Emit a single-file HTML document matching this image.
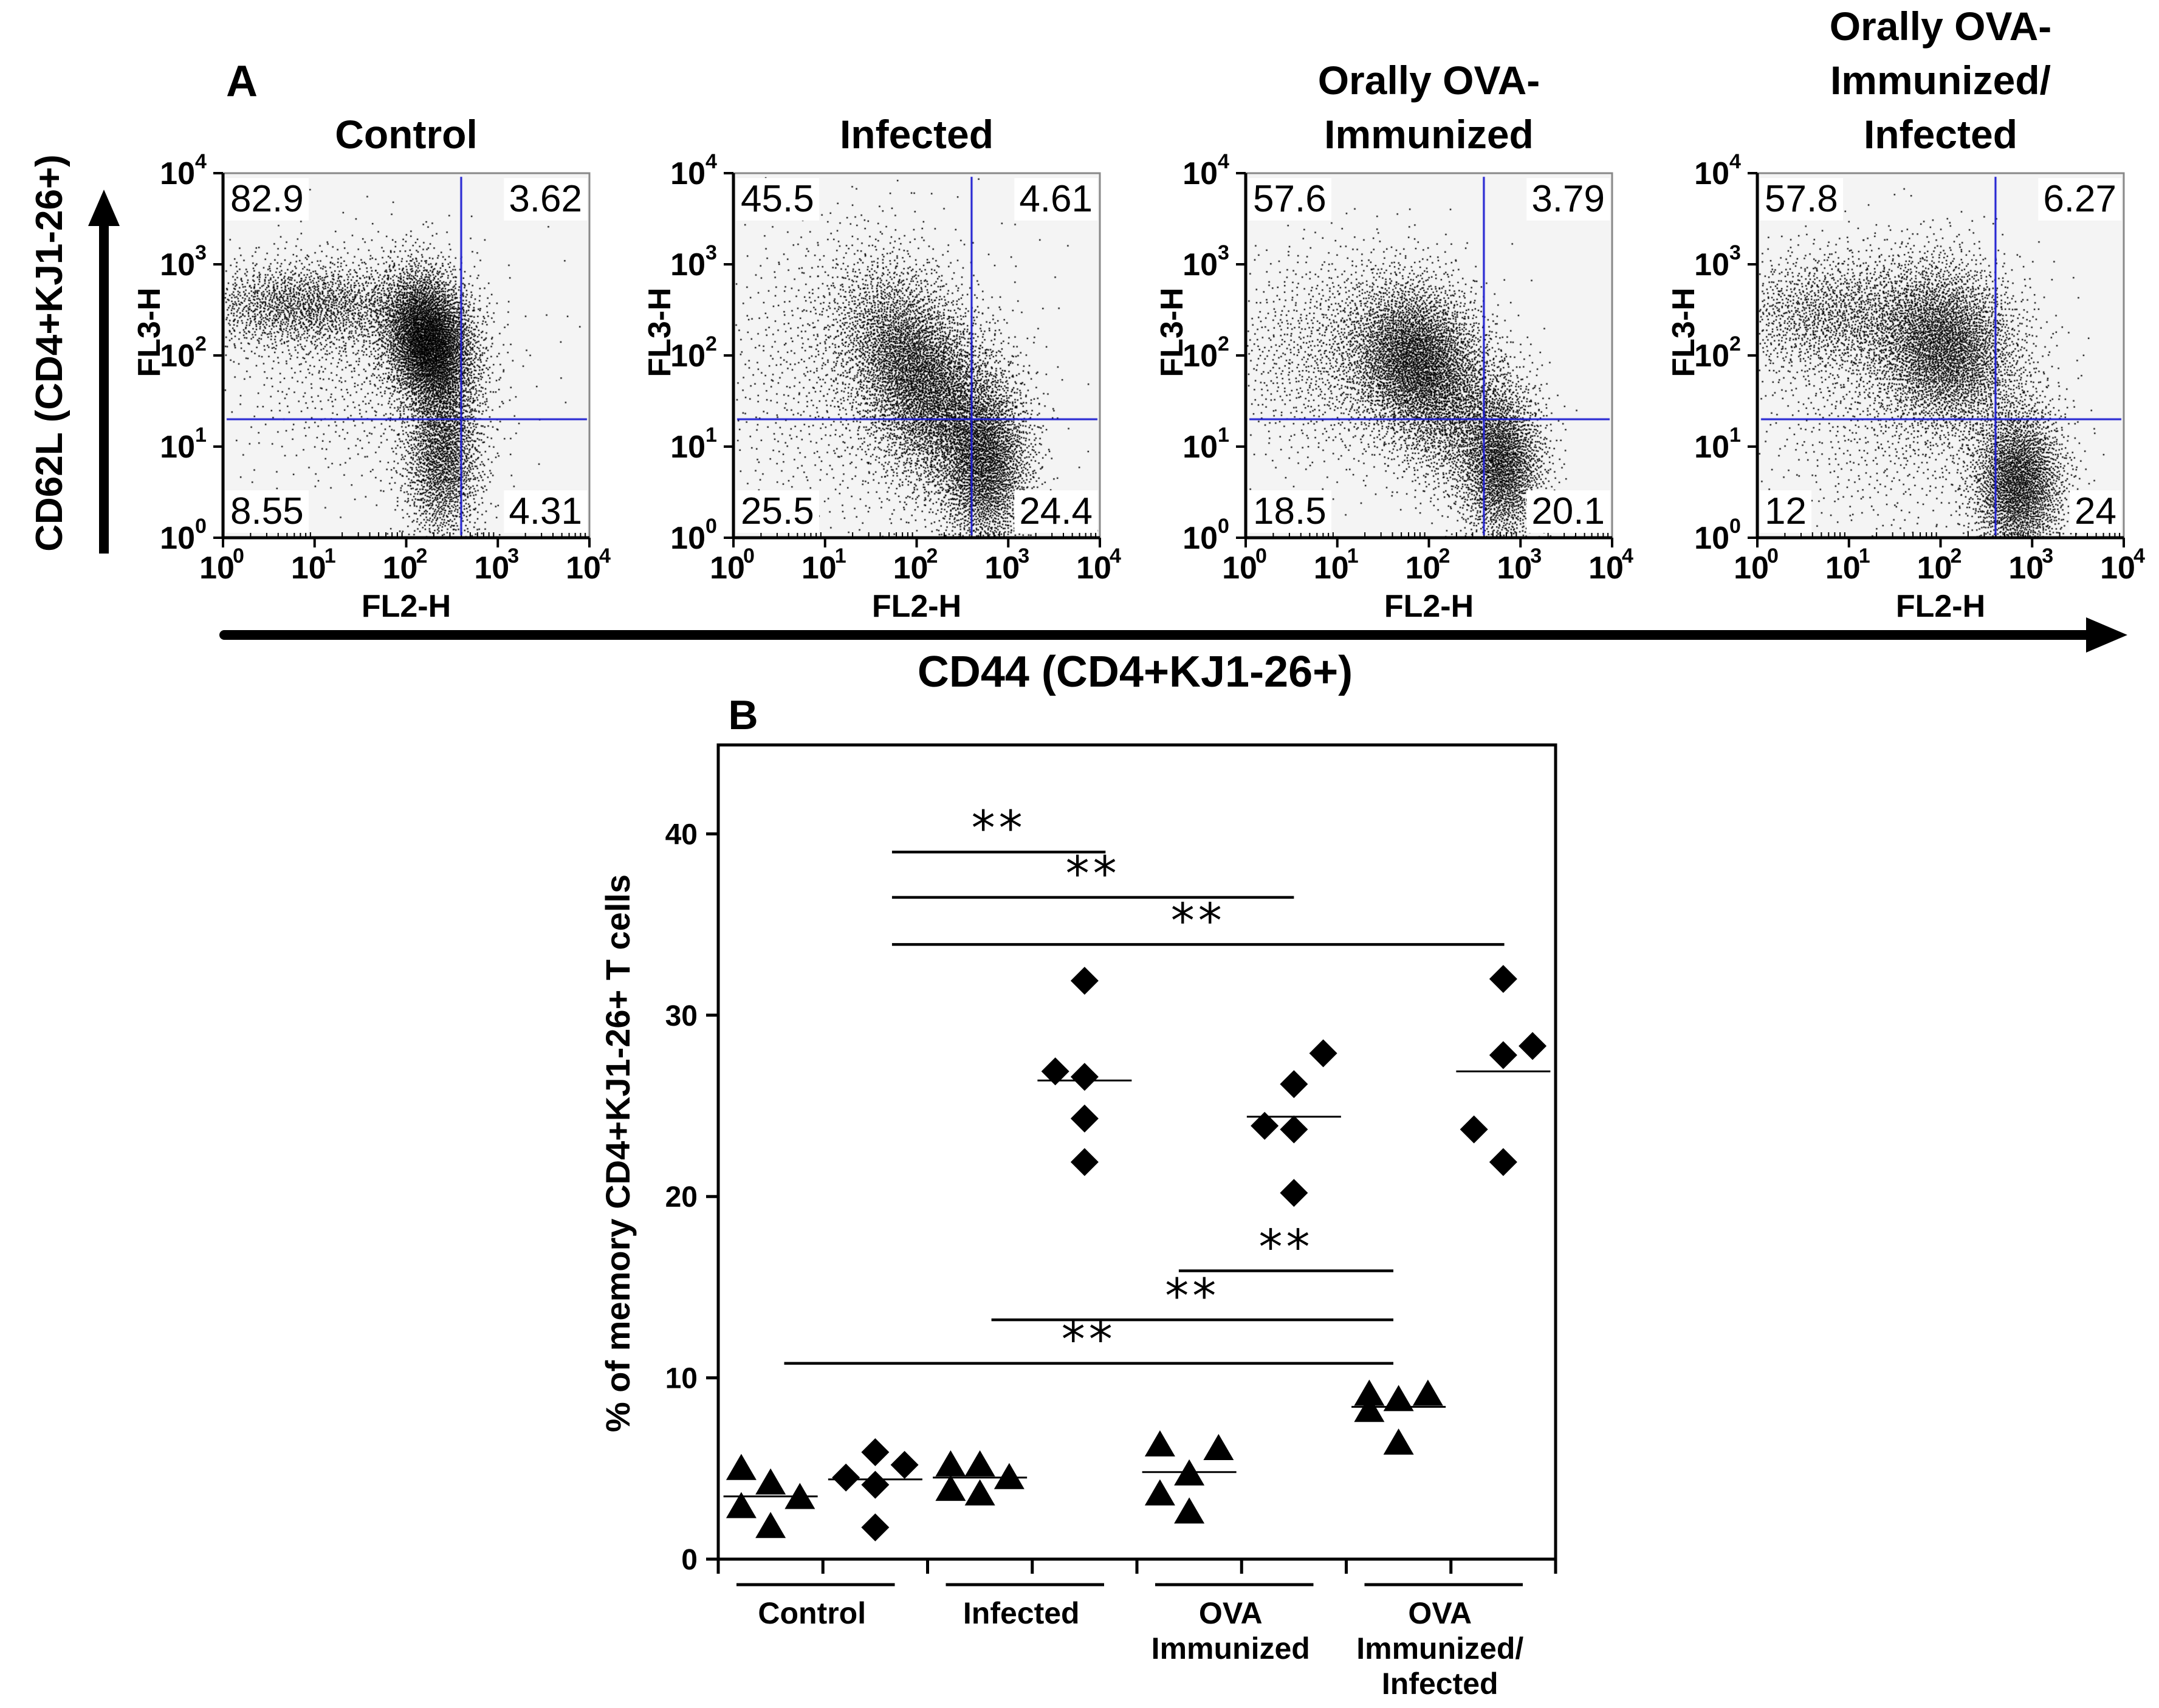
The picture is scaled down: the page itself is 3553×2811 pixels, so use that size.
<!DOCTYPE html>
<html><head><meta charset="utf-8"><style>
html,body{margin:0;padding:0;background:#fff;}
#root{position:relative;width:3553px;height:2811px;overflow:hidden;background:#fff;}
svg{position:absolute;left:0;top:0;}
canvas{position:absolute;}
.qn{position:absolute;background:#fff;font-family:"Liberation Sans Narrow","Liberation Sans",sans-serif;font-size:62px;line-height:70px;padding:0 8px;color:#000;}
</style></head><body>
<div id="root">
<svg id="base" width="3553" height="2811" viewBox="0 0 3553 2811"></svg>
</div>
<script>
// ---------- Panel A data ----------
const plotTitles = [["Control"],["Infected"],["Orally OVA-","Immunized"],["Orally OVA-","Immunized/","Infected"]];
const quadValues = [["82.9","3.62","8.55","4.31"],["45.5","4.61","25.5","24.4"],["57.6","3.79","18.5","20.1"],["57.8","6.27","12","24"]];
const gateX = [2.6,2.6,2.6,2.6];
const gateY = [1.3,1.3,1.3,1.3];
const logTicks = [0,1,2,3,4];
// clusters: [centerLogX, centerLogY, sdX, sdY, rho, count]
const clustersControl = [[2.25,2.15,0.26,0.4,-0.2,4200],[0.9,2.55,0.65,0.25,0,1800],[2.4,0.9,0.22,0.5,0,2000],[1.6,1.9,0.8,0.7,0,900]];
const clustersInfected = [[1.95,1.9,0.42,0.55,-0.35,3500],[2.75,0.8,0.26,0.5,0,2600],[2.3,1.3,0.4,0.5,0,1500],[1.3,1.8,0.9,0.9,0,1200]];
const clustersOva = [[1.85,1.95,0.38,0.45,-0.1,3600],[2.8,0.8,0.24,0.45,0,2300],[2.3,1.3,0.35,0.45,0,1200],[1.0,2.0,0.7,0.6,0,1300]];
const clustersOvaInf = [[2.05,2.1,0.42,0.48,-0.1,3600],[2.85,0.6,0.26,0.45,0,2700],[0.8,2.45,0.6,0.35,0,1500],[1.5,1.5,0.8,0.8,0,1100]];
const allClusters = [clustersControl,clustersInfected,clustersOva,clustersOvaInf];

// ---------- Panel B data ----------
const groupLabels = [["Control"],["Infected"],["OVA","Immunized"],["OVA","Immunized/","Infected"]];
const yTicks = [0,10,20,30,40];
const subMarkers = ["tri","dia","tri","dia","tri","dia","tri","dia"];
const valsCtrlTri = [5.0,2.9,4.2,1.8,3.4];
const colsCtrlTri = [0,0,1,1,2];
const valsCtrlDia = [4.5,5.9,4.1,1.75,5.2];
const colsCtrlDia = [0,1,1,1,2];
const valsInfTri = [5.2,3.85,5.2,3.6,4.5];
const colsInfTri = [0,0,1,1,2];
const valsInfDia = [26.9,31.9,26.6,24.3,21.9];
const colsInfDia = [0,1,1,1,1];
const valsOvaTri = [6.3,3.6,4.7,2.6,6.1];
const colsOvaTri = [0,0,1,1,2];
const valsOvaDia = [23.9,26.2,23.7,20.2,27.9];
const colsOvaDia = [0,1,1,1,2];
const valsOiTri = [9.1,8.2,8.8,6.4,9.1];
const colsOiTri = [0,0,1,1,2];
const valsOiDia = [23.7,32.0,27.8,21.9,28.3];
const colsOiDia = [0,1,1,1,2];
const medians = [3.46,4.4,4.5,26.4,4.8,24.4,8.4,26.9];
const sigStart = [1.66,1.66,1.66,4.40,2.61,0.63];
const sigEnd = [3.70,5.50,7.51,6.45,6.45,6.45];
const sigLevel = [39.0,36.5,33.9,15.9,13.2,10.8];

const NS="http://www.w3.org/2000/svg";
const svg=document.getElementById('base');
const root=document.getElementById('root');
function mk(tag,attrs,parent){const e=document.createElementNS(NS,tag);for(const k in attrs)e.setAttribute(k,attrs[k]);(parent||svg).appendChild(e);return e;}
const NARROW='"Liberation Sans Narrow","Liberation Sans",sans-serif';
const SANS='"Liberation Sans",sans-serif';

// ---------- Panel A ----------
const pLeft=[367,1207,2050,2892], pTop=285, pW=603, pH=600;
function fx(i,l){return pLeft[i]+l/4*pW;}
function fy(l){return pTop+pH-l/4*pH;}
let t;
t=mk('text',{x:398,y:158,'font-family':NARROW,'font-weight':'bold','font-size':72,'text-anchor':'middle'});
t.textContent='A';



function halton(i,b){let f=1,r=0;while(i>0){f/=b;r+=f*(i%b);i=Math.floor(i/b);}return r;}
let hIdx=1;

for(let i=0;i<4;i++){
  const g=mk('g',{});
  
  
  const bg=mk('rect',{x:pLeft[i],y:pTop,width:pW,height:pH,fill:'#f4f4f4',stroke:'#888','stroke-width':3},g);
  
  
  const lines=plotTitles[i];
  const cx=pLeft[i]+pW/2;
  lines.forEach((s,k)=>{
    const tt=mk('text',{x:cx,y:244-(lines.length-1-k)*89,'font-family':NARROW,'font-weight':'bold','font-size':66,'text-anchor':'middle'},g);
    tt.textContent=s;
    
    
  });
  mk('line',{x1:pLeft[i],y1:pTop,x2:pLeft[i],y2:pTop+pH+2,stroke:'#000','stroke-width':5},g);
  mk('line',{x1:pLeft[i]-2,y1:pTop+pH,x2:pLeft[i]+pW,y2:pTop+pH,stroke:'#000','stroke-width':5},g);
  logTicks.forEach(v=>{
    mk('line',{x1:pLeft[i]-16,y1:fy(v),x2:pLeft[i],y2:fy(v),stroke:'#000','stroke-width':4},g);
    mk('line',{x1:fx(i,v),y1:pTop+pH,x2:fx(i,v),y2:pTop+pH+16,stroke:'#000','stroke-width':4},g);
    if(v<4){for(let m=2;m<10;m++){const lm=v+Math.log10(m);
      mk('line',{x1:fx(i,lm),y1:pTop+pH-9,x2:fx(i,lm),y2:pTop+pH,stroke:'#000','stroke-width':2},g);}}
    const yl=mk('text',{x:pLeft[i]-46,y:fy(v)+18,'font-family':NARROW,'font-weight':'bold','font-size':52,'text-anchor':'end'},g);
    yl.textContent='10';
    
    
    const ys=mk('text',{x:pLeft[i]-46,y:fy(v)-8,'font-family':NARROW,'font-weight':'bold','font-size':34,'text-anchor':'start'},g);
    ys.textContent=String(v);
    const xl=mk('text',{x:fx(i,v)-10,y:952,'font-family':NARROW,'font-weight':'bold','font-size':52,'text-anchor':'middle'},g);
    xl.textContent='10';
    
    
    const xs=mk('text',{x:fx(i,v)+16,y:926,'font-family':NARROW,'font-weight':'bold','font-size':34,'text-anchor':'start'},g);
    xs.textContent=String(v);
  });
  const xa=mk('text',{x:cx,y:1015,'font-family':SANS,'font-weight':'bold','font-size':52,'text-anchor':'middle'},g);
  xa.textContent='FL2-H';
  
  
  const ya=mk('text',{x:0,y:0,'font-family':SANS,'font-weight':'bold','font-size':52,'text-anchor':'middle',transform:`translate(${pLeft[i]-104},547) rotate(-90)`},g);
  ya.textContent='FL3-H';
  
  

  const cv=document.createElement('canvas');
  cv.width=pW;cv.height=pH;
  cv.style.left=pLeft[i]+'px';cv.style.top=pTop+'px';
  
  
  root.appendChild(cv);
  const ctx=cv.getContext('2d');
  ctx.fillStyle='#000';
  allClusters[i].forEach(c=>{
    const [mx,my,sx,sy,rho,n]=c;
    for(let k=0;k<n;k++){
      const u1=Math.max(1e-6,halton(hIdx,2)),u2=halton(hIdx,3);hIdx++;
      const r=Math.sqrt(-2*Math.log(u1));
      const z1=r*Math.cos(2*Math.PI*u2),z2=r*Math.sin(2*Math.PI*u2);
      const lx=mx+sx*z1, ly=my+sy*(rho*z1+Math.sqrt(1-rho*rho)*z2);
      if(lx<0.02||lx>3.98||ly<0.01||ly>3.98)continue;
      ctx.fillRect(lx/4*pW-1,pH-ly/4*pH-1,2.4,2.4);
    }
  });
  ctx.strokeStyle='#1a1ad0';ctx.lineWidth=3;
  ctx.beginPath();
  const gx=gateX[i]/4*pW, gy=pH-gateY[i]/4*pH;
  ctx.moveTo(gx,6);ctx.lineTo(gx,pH-4);
  ctx.moveTo(6,gy);ctx.lineTo(pW-4,gy);
  ctx.stroke();

  quadValues[i].forEach((s,k)=>{
    const d=document.createElement('div');
    d.className='qn';
    d.textContent=s;
    
    
    const left=(k%2===0);
    const top=(k<2);
    d.style.top=(top?pTop+8:pTop+pH-78)+'px';
    if(left)d.style.left=(pLeft[i]+4)+'px';
    else d.style.left=(pLeft[i]+pW-4)+'px', d.style.transform='translateX(-100%)';
    root.appendChild(d);
  });
}
mk('line',{x1:171,y1:911,x2:171,y2:370,stroke:'#000','stroke-width':16});
mk('polygon',{points:'171,312 145,372 197,372',fill:'#000'});
t=mk('text',{x:0,y:0,'font-family':SANS,'font-weight':'bold','font-size':62,'text-anchor':'middle',transform:'translate(102,581) rotate(-90)'});
t.textContent='CD62L (CD4+KJ1-26+)';


mk('line',{x1:369,y1:1045,x2:3440,y2:1045,stroke:'#000','stroke-width':16,'stroke-linecap':'round'});
mk('polygon',{points:'3501,1045 3433,1016 3433,1074',fill:'#000'});
t=mk('text',{x:1868,y:1130,'font-family':NARROW,'font-weight':'bold','font-size':72,'text-anchor':'middle'});
t.textContent='CD44 (CD4+KJ1-26+)';



// ---------- Panel B ----------
const bL=1182,bR=2560,bT=1226,bY0=2566,bPer=29.84,bUnit=(bR-bL)/8;
function bx(v){return bL+v*bUnit;}
function by(v){return bY0-v*bPer;}
const colOff=[0.22,0.5,0.78];
t=mk('text',{x:1223,y:1200,'font-family':NARROW,'font-weight':'bold','font-size':68,'text-anchor':'middle'});
t.textContent='B';


const frame=mk('rect',{x:bL,y:bT,width:bR-bL,height:bY0-bT,fill:'none',stroke:'#000','stroke-width':5});


yTicks.forEach(v=>{
  mk('line',{x1:bL-20,y1:by(v),x2:bL,y2:by(v),stroke:'#000','stroke-width':5});
  const tl=mk('text',{x:bL-34,y:by(v)+17,'font-family':SANS,'font-weight':'bold','font-size':48,'text-anchor':'end'});
  tl.textContent=String(v);
  
  
});
for(let k=0;k<=8;k++)mk('line',{x1:bx(k),y1:bY0,x2:bx(k),y2:bY0+24,stroke:'#000','stroke-width':5});
groupLabels.forEach((lines,gi)=>{
  mk('line',{x1:bx(gi*2)+30,y1:2608,x2:bx(gi*2+2)-54,y2:2608,stroke:'#000','stroke-width':5});
  const cx=bx(gi*2+1)-18;
  lines.forEach((s,k)=>{
    const tl=mk('text',{x:cx,y:2672+k*58,'font-family':SANS,'font-weight':'bold','font-size':50,'text-anchor':'middle'});
    tl.textContent=s;
    
    
  });
});
t=mk('text',{x:0,y:0,'font-family':SANS,'font-weight':'bold','font-size':56,'text-anchor':'middle',transform:'translate(1036,1898) rotate(-90)'});
t.textContent='% of memory CD4+KJ1-26+ T cells';



const subVals=[valsCtrlTri,valsCtrlDia,valsInfTri,valsInfDia,valsOvaTri,valsOvaDia,valsOiTri,valsOiDia];
const subCols=[colsCtrlTri,colsCtrlDia,colsInfTri,colsInfDia,colsOvaTri,colsOvaDia,colsOiTri,colsOiDia];
subVals.forEach((vals,s)=>{
  vals.forEach((v,k)=>{
    const x=bx(s+colOff[subCols[s][k]]), y=by(v);
    let m;
    if(subMarkers[s]==='tri') m=mk('polygon',{points:`${x},${y-24} ${x-25},${y+19} ${x+25},${y+19}`,fill:'#000'});
    else m=mk('polygon',{points:`${x},${y-23} ${x+23},${y} ${x},${y+23} ${x-23},${y}`,fill:'#000'});
    
    
  });
  const ml=mk('line',{x1:bx(s+0.05),y1:by(medians[s]),x2:bx(s+0.95),y2:by(medians[s]),stroke:'#000','stroke-width':3});
  
  
});
sigLevel.forEach((lv,k)=>{
  const l=mk('line',{x1:bx(sigStart[k]),y1:by(lv),x2:bx(sigEnd[k]),y2:by(lv),stroke:'#000','stroke-width':4.5});
  
  
  const st=mk('text',{x:bx((sigStart[k]+sigEnd[k])/2),y:by(lv)-12,'font-family':'"DejaVu Sans",sans-serif','font-size':78,'text-anchor':'middle','letter-spacing':6});
  st.textContent='**';
  
  
});
</script>
</body></html>
